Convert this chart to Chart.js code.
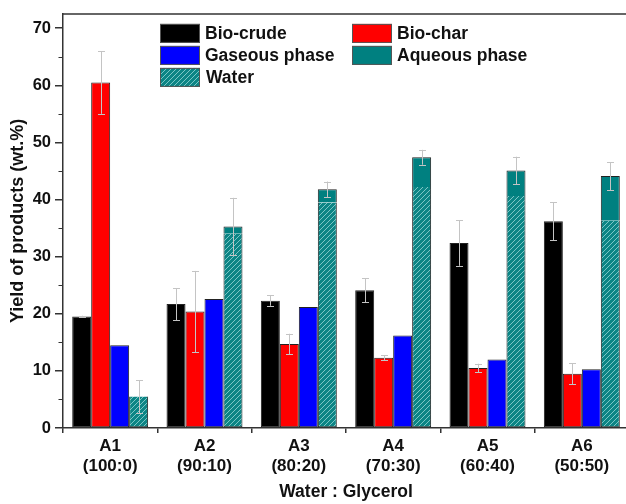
<!DOCTYPE html>
<html>
<head>
<meta charset="utf-8">
<script src="https://cdn.jsdelivr.net/npm/chart.js@4/dist/chart.umd.min.js"></script>
<style>
  html, body { margin: 0; padding: 0; background: #fff; overflow: hidden; }
  #wrap { width: 626px; height: 504px; overflow: hidden; }
  canvas { display: block; }
</style>
</head>
<body>
<div id="wrap"><canvas id="c" width="632" height="504"></canvas></div>
<script>
// ---- Data ----
const categories = [['A1', '(100:0)'], ['A2', '(90:10)'], ['A3', '(80:20)'], ['A4', '(70:30)'], ['A5', '(60:40)'], ['A6', '(50:50)']];
const seriesNames = ['Bio-crude', 'Bio-char', 'Gaseous phase', 'Aqueous phase', 'Water'];
const bioCrude     = [19.5, 21.7, 22.3, 24.1, 32.4, 36.2];
const bioCrudeErr  = [0.15, 2.8, 0.9, 2.1, 4.0, 3.3];
const bioChar      = [60.5, 20.4, 14.7, 12.3, 10.5, 9.5];
const bioCharErr   = [5.5, 7.1, 1.8, 0.45, 0.75, 1.8];
const gaseous      = [14.5, 22.6, 21.2, 16.2, 12.0, 10.3];
const aqueousTotal = [5.5, 35.3, 41.8, 47.4, 45.1, 44.1];
const aqueousErr   = [2.9, 5.0, 1.35, 1.3, 2.4, 2.45];
const water        = [5.5, 34.0, 39.5, 42.2, 40.6, 36.3];
const yTicks       = [0, 10, 20, 30, 40, 50, 60, 70];
const yMinorTicks  = [5, 15, 25, 35, 45, 55, 65];

// upper (non-water) part of the aqueous phase bar
const aqueousUpper = aqueousTotal.map((t, i) => Math.max(0, +(t - water[i]).toFixed(2)));

Chart.defaults.font.family = "'Liberation Sans', Arial, sans-serif";
Chart.defaults.font.weight = 'bold';
Chart.defaults.color = '#111';

// hatch pattern for Water
function makeHatch() {
  const s = 5;
  const pc = document.createElement('canvas');
  pc.width = s; pc.height = s;
  const g = pc.getContext('2d');
  g.fillStyle = '#0c8585';
  g.fillRect(0, 0, s, s);
  g.strokeStyle = '#7cc6c6';
  g.lineWidth = 1;
  g.beginPath();
  g.moveTo(0, s); g.lineTo(s, 0);
  g.moveTo(-1, 1); g.lineTo(1, -1);
  g.moveTo(s - 1, s + 1); g.lineTo(s + 1, s - 1);
  g.stroke();
  return g.createPattern(pc, 'repeat');
}
const ctx = document.getElementById('c').getContext('2d');
const hatch = makeHatch();

const COLORS = {
  'Bio-crude': '#000000',
  'Bio-char': '#ff0000',
  'Gaseous phase': '#0000ff',
  'Aqueous phase': '#008080',
  'Water': hatch
};
const EDGE = '#222222';

const datasets = [
  { label: 'Bio-crude', data: bioCrude, backgroundColor: COLORS['Bio-crude'], stack: 's1', err: bioCrudeErr, errBase: bioCrude },
  { label: 'Bio-char', data: bioChar, backgroundColor: COLORS['Bio-char'], stack: 's2', err: bioCharErr, errBase: bioChar },
  { label: 'Gaseous phase', data: gaseous, backgroundColor: COLORS['Gaseous phase'], stack: 's3' },
  { label: 'Water', data: water, backgroundColor: COLORS['Water'], stack: 's4',
    borderWidth: { top: 0, left: 1, right: 1, bottom: 1 } },
  { label: 'Aqueous phase', data: aqueousUpper, backgroundColor: COLORS['Aqueous phase'], stack: 's4',
    borderWidth: { top: 1, left: 1, right: 1, bottom: 0 }, err: aqueousErr, errBase: aqueousTotal }
].map(d => Object.assign({
  borderColor: EDGE, borderWidth: 1, borderSkipped: false,
  categoryPercentage: 0.805, barPercentage: 1.0
}, d));

const frameColor = '#333333';
const tickFont = { family: "'Liberation Sans', Arial, sans-serif", weight: 'bold', size: 16.5 };
const labelFont = { family: "'Liberation Sans', Arial, sans-serif", weight: 'bold', size: 17 };
const titleFont = { family: "'Liberation Sans', Arial, sans-serif", weight: 'bold', size: 17.5 };
const yTitleFont = { family: "'Liberation Sans', Arial, sans-serif", weight: 'bold', size: 18 };

const framePlugin = {
  id: 'frame',
  afterDraw(chart) {
    const { ctx, chartArea: a, scales: { y } } = chart;
    ctx.save();
    ctx.strokeStyle = frameColor;
    ctx.lineWidth = 1.5;
    ctx.beginPath();
    ctx.moveTo(a.left, a.top); ctx.lineTo(a.right, a.top);
    ctx.stroke();
    // minor ticks on y axis
    ctx.lineWidth = 1.2;
    ctx.beginPath();
    yMinorTicks.forEach(v => {
      const py = Math.round(y.getPixelForValue(v)) + 0.5;
      ctx.moveTo(a.left - 4.5, py); ctx.lineTo(a.left, py);
    });
    ctx.stroke();
    ctx.restore();
  }
};

const errorPlugin = {
  id: 'errbars',
  afterDatasetsDraw(chart) {
    const { ctx, scales: { y } } = chart;
    ctx.save();
    ctx.strokeStyle = '#c4c4c4';
    ctx.lineWidth = 1;
    chart.data.datasets.forEach((ds, di) => {
      if (!ds.err) return;
      const meta = chart.getDatasetMeta(di);
      meta.data.forEach((bar, i) => {
        const base = ds.errBase[i], e = ds.err[i];
        const x = Math.round(bar.x) + 0.5;
        const y1 = y.getPixelForValue(base + e);
        const y2 = y.getPixelForValue(base - e);
        const cw = 3.5;
        ctx.beginPath();
        ctx.moveTo(x, y1); ctx.lineTo(x, y2);
        ctx.moveTo(x - cw, Math.round(y1) + 0.5); ctx.lineTo(x + cw, Math.round(y1) + 0.5);
        ctx.moveTo(x - cw, Math.round(y2) + 0.5); ctx.lineTo(x + cw, Math.round(y2) + 0.5);
        ctx.stroke();
      });
    });
    ctx.restore();
  }
};

const legendPlugin = {
  id: 'gridLegend',
  afterDraw(chart) {
    const { ctx, chartArea: a } = chart;
    const order = seriesNames;
    const colX = [a.left + 97, a.left + 289];
    const rowY = [a.top + 10, a.top + 32, a.top + 54];
    const bw = 40, bh = 19;
    ctx.save();
    ctx.font = "bold 17.5px 'Liberation Sans', Arial, sans-serif";
    ctx.textBaseline = 'middle';
    ctx.textAlign = 'left';
    order.forEach((name, k) => {
      const ds = chart.data.datasets.find(d => d.label === name);
      const x = colX[k % 2], yy = rowY[Math.floor(k / 2)];
      ctx.fillStyle = ds.backgroundColor;
      ctx.fillRect(x, yy, bw, bh);
      ctx.strokeStyle = '#555';
      ctx.lineWidth = 1;
      ctx.strokeRect(x + 0.5, yy + 0.5, bw - 1, bh - 1);
      ctx.fillStyle = '#111';
      ctx.fillText(name, x + bw + (name === 'Water' ? 6 : 5), yy + bh / 2 + 1);
    });
    ctx.restore();
  }
};

new Chart(ctx, {
  type: 'bar',
  data: { labels: categories, datasets },
  options: {
    responsive: false,
    animation: false,
    devicePixelRatio: 1,
    layout: { padding: { top: 12, right: 3, left: 0, bottom: 0 } },
    plugins: { legend: { display: false }, tooltip: { enabled: false } },
    scales: {
      x: {
        stacked: true,
        grid: { display: true, drawOnChartArea: false, drawTicks: true, tickLength: 5, color: frameColor, lineWidth: 1.5, offset: true },
        border: { display: true, color: frameColor, width: 1.5 },
        ticks: { font: labelFont, color: '#111', padding: 3, maxRotation: 0, autoSkip: false },
        title: { display: true, text: 'Water : Glycerol', font: titleFont, color: '#111', padding: { top: 0, bottom: 1 } },
        afterFit(s) { s.height = 76; }
      },
      y: {
        stacked: true,
        min: 0, max: 72.5,
        afterBuildTicks(s) { s.ticks = yTicks.map(v => ({ value: v })); },
        grid: { display: true, drawOnChartArea: false, drawTicks: true, tickLength: 8, color: frameColor, lineWidth: 1.5 },
        border: { display: true, color: frameColor, width: 1.5 },
        ticks: { font: tickFont, color: '#111', padding: 4 },
        title: { display: true, text: 'Yield of products (wt.%)', font: yTitleFont, color: '#111', padding: { top: 7.5, bottom: 0 } },
        afterFit(s) { s.width = 63; }
      }
    }
  },
  plugins: [framePlugin, errorPlugin, legendPlugin]
});
</script>
</body>
</html>
